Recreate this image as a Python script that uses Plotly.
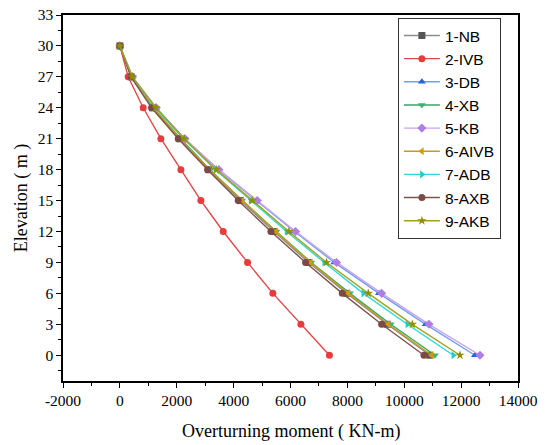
import plotly.graph_objects as go

elevation = [30, 27, 24, 21, 18, 15, 12, 9, 6, 3, 0]

names = ["1-NB", "2-IVB", "3-DB", "4-XB", "5-KB", "6-AIVB", "7-ADB", "8-AXB", "9-AKB"]

nb   = [0, 400, 1150, 2110, 3130, 4240, 5420, 6640, 7980, 9400, 10900]
ivb  = [0, 292, 820, 1442, 2146, 2849, 3634, 4490, 5380, 6366, 7369]
db   = [0, 440, 1270, 2270, 3460, 4800, 6140, 7540, 9110, 10754, 12487]
xb   = [0, 410, 1170, 2140, 3170, 4300, 5500, 6730, 8090, 9523, 11080]
kb   = [0, 445, 1280, 2290, 3482, 4831, 6180, 7620, 9205, 10869, 12663]
aivb = [0, 405, 1160, 2120, 3150, 4303, 5487, 6706, 8031, 9440, 10963]
adb  = [0, 430, 1240, 2240, 3360, 4597, 5862, 7186, 8559, 10109, 11725]
axb  = [0, 390, 1114, 2052, 3084, 4162, 5311, 6530, 7820, 9205, 10693]
akb  = [0, 435, 1266, 2260, 3390, 4655, 5944, 7268, 8734, 10284, 11960]

x_ticks = [-2000, 0, 2000, 4000, 6000, 8000, 10000, 12000, 14000]
x_tick_labels = ["-2000", "0", "2000", "4000", "6000", "8000", "10000", "12000", "14000"]
y_ticks = [0, 3, 6, 9, 12, 15, 18, 21, 24, 27, 30, 33]

series = [nb, ivb, db, xb, kb, aivb, adb, axb, akb]
line_colors = ["#8c8c8c", "#e34848", "#6fa0ea", "#2ea863", "#c9a3ee",
               "#c99a1a", "#2fd8d8", "#7d534f", "#a3a31c"]
marker_colors = ["#555555", "#e83c3c", "#1e66dc", "#3cb371", "#b07ce6",
                 "#d49b00", "#22cccc", "#7a4a46", "#8f8f00"]
symbols = ["square", "circle", "triangle-up", "triangle-down", "diamond",
           "triangle-left", "triangle-right", "circle", "star"]

fig = go.Figure()
for n, s, lc, mc, sym in zip(names, series, line_colors, marker_colors, symbols):
    fig.add_trace(go.Scatter(
        x=s, y=elevation, mode="lines+markers", name=n,
        line=dict(color=lc, width=1.4),
        marker=dict(symbol=sym, size=7, color=mc, line=dict(width=0)),
    ))

axis_common = dict(
    showline=True, linecolor="black", linewidth=1.5, mirror=True,
    ticks="outside", ticklen=5, tickwidth=1.2, tickcolor="black",
    showgrid=False, zeroline=False, automargin=False,
    tickfont=dict(family="Liberation Serif", size=15.5, color="black"),
)

fig.update_xaxes(
    range=[-2000, 14000], tickmode="array",
    tickvals=x_ticks, ticktext=x_tick_labels,
    minor=dict(ticks="outside", ticklen=3, tickwidth=1, tickcolor="black", dtick=1000, tick0=0),
    **axis_common,
)
fig.update_yaxes(
    range=[-2.5, 33], tickmode="array",
    tickvals=y_ticks, ticktext=[str(v) for v in y_ticks],
    minor=dict(ticks="outside", ticklen=3, tickwidth=1, tickcolor="black", dtick=1.5, tick0=0),
    **axis_common,
)

fig.add_annotation(
    text="Overturning moment ( KN-m)", xref="paper", yref="paper",
    x=0.5, y=-0.139, xanchor="center", yanchor="middle", showarrow=False,
    font=dict(family="Liberation Serif", size=18, color="black"),
)
fig.add_annotation(
    text="Elevation ( m )", xref="paper", yref="paper",
    x=-0.092, y=0.5, xanchor="center", yanchor="middle", showarrow=False,
    textangle=-90,
    font=dict(family="Liberation Serif", size=18, color="black"),
)

fig.update_layout(
    width=545, height=445,
    margin=dict(l=63, r=27, t=15, b=64),
    plot_bgcolor="white", paper_bgcolor="white",
    legend=dict(
        x=0.736, y=0.992, xanchor="left", yanchor="top",
        bordercolor="#333333", borderwidth=1, bgcolor="white",
        font=dict(family="Liberation Sans", size=15.5, color="black"),
        itemwidth=36, tracegroupgap=0,
    ),
)

fig.write_html("out.html")
